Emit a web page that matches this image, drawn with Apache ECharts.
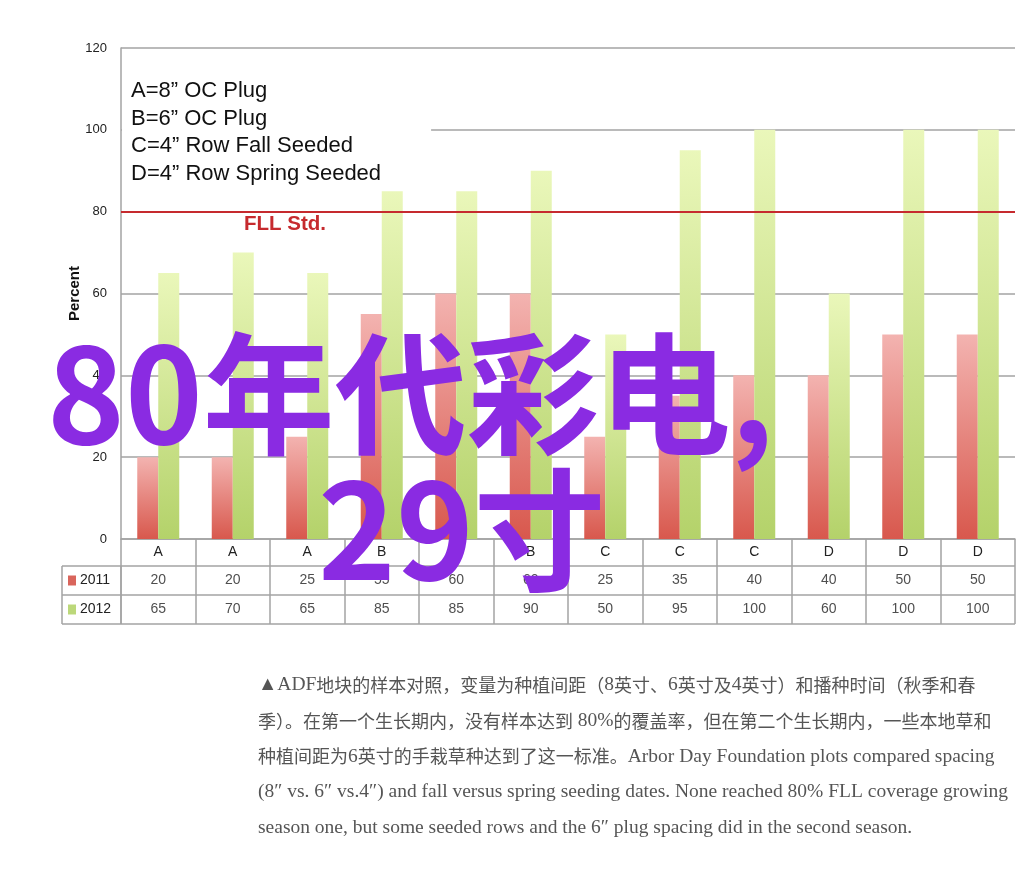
<!DOCTYPE html>
<html>
<head>
<meta charset="utf-8">
<script src="https://cdn.jsdelivr.net/npm/echarts@6/dist/echarts.min.js"></script>
<style>
html,body{margin:0;padding:0;background:#fff;}
#c{width:1034px;height:888px;}
</style>
</head>
<body>
<div id="c"></div>
<script>
var categories = ['A','A','A','B','B','B','C','C','C','D','D','D'];
var values2011 = [20,20,25,55,60,60,25,35,40,40,50,50];
var values2012 = [65,70,65,85,85,90,50,95,100,60,100,100];
var seriesNames = ['2011','2012'];
var yMin = 0, yMax = 120, yStep = 20;
var fllValue = 80;
var fllLabel = 'FLL Std.';
var legendLines = ['A=8\u201d OC Plug','B=6\u201d OC Plug','C=4\u201d Row Fall Seeded','D=4\u201d Row Spring Seeded'];
var overlayLine1 = '80年代彩电,';
var overlayLine2 = '29寸';
var captionLines = [
  '▲ADF地块的样本对照，变量为种植间距（8英寸、6英寸及4英寸）和播种时间（秋季和春',
  '季）。在第一个生长期内，没有样本达到 80%的覆盖率，但在第二个生长期内，一些本地草和',
  '种植间距为6英寸的手栽草种达到了这一标准。Arbor Day Foundation plots compared spacing',
  '(8\u2033 vs. 6\u2033 vs.4\u2033) and fall versus spring seeding dates. None reached 80% FLL coverage growing',
  'season one, but some seeded rows and the 6\u2033 plug spacing did in the second season.'
];

var gridGrey = '#a3a3a3';
var tableFont = 'Liberation Sans, Arial, sans-serif';
var redGrad = new echarts.graphic.LinearGradient(0,0,0,1,[{offset:0,color:'#f3b3b0'},{offset:1,color:'#d8584d'}]);
var greenGrad = new echarts.graphic.LinearGradient(0,0,0,1,[{offset:0,color:'#eaf7ba'},{offset:1,color:'#b4d26a'}]);

function cellData(vals, rowName){
  return vals.map(function(v,i){ return [i,rowName,v]; });
}
// wrap CJK / Latin runs in rich-text tags so each uses its own font
function richLine(line){
  var parts = line.split(/([\u3000-\u303f\u4e00-\u9fff\uff00-\uffef]+)/);
  return parts.filter(function(s){return s.length;}).map(function(s){
    return /[\u3000-\u303f\u4e00-\u9fff\uff00-\uffef]/.test(s) ? '{c|'+s+'}' : '{e|'+s+'}';
  }).join('');
}

var chart = echarts.init(document.getElementById('c'), null, {renderer:'canvas'});
chart.setOption({
  animation:false,
  backgroundColor:'#fff',
  title:{
    text: legendLines.join('\n'),
    left:122, top:69,
    backgroundColor:'#fff',
    padding:[8,50,1,9],
    textStyle:{fontFamily:'Liberation Sans, Arial, sans-serif',fontSize:22,fontWeight:'normal',color:'#111',lineHeight:27.7}
  },
  grid:[
    {left:121,right:19,top:48,bottom:349},
    {left:121,right:19,top:566,height:58},
    {left:62,width:59,top:566,height:58}
  ],
  xAxis:[
    {type:'category',data:categories,gridIndex:0,
     axisLine:{show:true,lineStyle:{color:gridGrey,width:1.5}},
     axisTick:{show:true,interval:0,length:27,lineStyle:{color:gridGrey,width:1.5}},
     axisLabel:{interval:0,margin:6,color:'#222',fontSize:14,fontFamily:tableFont},
     splitLine:{show:false}},
    {type:'category',data:categories,gridIndex:1,
     axisLine:{show:false},axisTick:{show:false},axisLabel:{show:false},
     splitLine:{show:true,interval:0,lineStyle:{color:gridGrey,width:1.5}}},
    {type:'category',data:[''],gridIndex:2,
     axisLine:{show:false},axisTick:{show:false},axisLabel:{show:false},
     splitLine:{show:true,interval:0,lineStyle:{color:gridGrey,width:1.5}}}
  ],
  yAxis:[
    {type:'value',gridIndex:0,min:yMin,max:yMax,interval:yStep,
     name:'Percent',nameLocation:'middle',nameGap:39,nameMoveOverlap:false,
     nameTextStyle:{fontFamily:'Liberation Sans, Arial, sans-serif',fontSize:15,fontWeight:'bold',color:'#111'},
     axisLine:{show:true,lineStyle:{color:gridGrey,width:1.5}},
     axisTick:{show:false},
     axisLabel:{margin:14,color:'#222',fontSize:13,fontFamily:tableFont},
     splitLine:{show:true,lineStyle:{color:gridGrey,width:1.5}}},
    {type:'category',gridIndex:1,data:seriesNames,inverse:true,
     axisLine:{show:false},axisTick:{show:false},axisLabel:{show:false},
     splitLine:{show:true,interval:0,lineStyle:{color:gridGrey,width:1.5}}},
    {type:'category',gridIndex:2,data:seriesNames,inverse:true,
     axisLine:{show:false},axisTick:{show:false},
     axisLabel:{inside:true,margin:6,fontSize:14,color:'#222',fontFamily:tableFont,
       formatter:function(v){ return (v===seriesNames[0]?'{r|}':'{g|}')+' '+v; },
       rich:{
         r:{width:8,height:10,backgroundColor:'#d9655c'},
         g:{width:8,height:10,backgroundColor:'#bcd87a'}
       }},
     splitLine:{show:true,interval:0,lineStyle:{color:gridGrey,width:1.5}}}
  ],
  series:[
    {name:seriesNames[0],type:'bar',xAxisIndex:0,yAxisIndex:0,data:values2011,
     barWidth:21,barGap:'0%',itemStyle:{color:redGrad},
     markLine:{silent:true,symbol:'none',
       lineStyle:{color:'#c62a2e',width:2,type:'solid'},
       label:{show:true,position:'insideStartBottom',formatter:fllLabel,distance:2,
         padding:[0,0,0,121],
         color:'#c62a2e',fontSize:20.5,fontWeight:'bold',fontFamily:'Liberation Sans, Arial, sans-serif'},
       data:[{yAxis:fllValue}]}},
    {name:seriesNames[1],type:'bar',xAxisIndex:0,yAxisIndex:0,data:values2012,
     barWidth:21,barGap:'0%',itemStyle:{color:greenGrad}},
    {type:'scatter',xAxisIndex:1,yAxisIndex:1,data:cellData(values2011,seriesNames[0]),
     symbolSize:1,itemStyle:{color:'rgba(0,0,0,0)'},silent:true,
     label:{show:true,position:'inside',formatter:function(p){return p.value[2];},
       color:'#222',fontSize:14,fontFamily:tableFont}},
    {type:'scatter',xAxisIndex:1,yAxisIndex:1,data:cellData(values2012,seriesNames[1]),
     symbolSize:1,itemStyle:{color:'rgba(0,0,0,0)'},silent:true,
     label:{show:true,position:'inside',formatter:function(p){return p.value[2];},
       color:'#222',fontSize:14,fontFamily:tableFont}}
  ],
  graphic:[
    {type:'text',left:258,top:667,z:10,silent:true,
     style:{text:captionLines.map(richLine).join('\n'),fill:'#555',lineHeight:35.8,
       rich:{
         c:{fontSize:18,lineHeight:35.8,fill:'#555',fontFamily:'"Noto Sans CJK SC", sans-serif'},
         e:{fontSize:19.5,lineHeight:35.8,fill:'#555',fontFamily:'Liberation Serif, serif'}
       }}},
    {type:'text',x:47,y:394,z:100,silent:true,
     style:{text:overlayLine1,fill:'#8a2be2',fontSize:132,fontWeight:'bold',
       fontFamily:'"Noto Sans CJK SC", sans-serif',verticalAlign:'middle',align:'left'}},
    {type:'text',x:318,y:530,z:100,silent:true,
     style:{text:overlayLine2,fill:'#8a2be2',fontSize:132,fontWeight:'bold',
       fontFamily:'"Noto Sans CJK SC", sans-serif',verticalAlign:'middle',align:'left'}}
  ]
});
</script>
</body>
</html>
